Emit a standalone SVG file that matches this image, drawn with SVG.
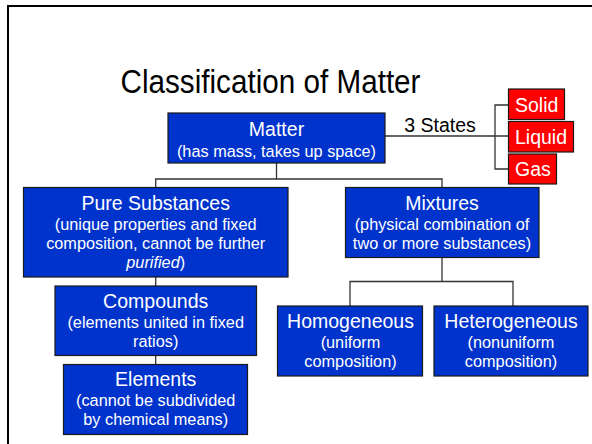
<svg xmlns="http://www.w3.org/2000/svg" width="592" height="444" viewBox="0 0 592 444">
<style>
text{font-family:"Liberation Sans",Arial,sans-serif;}
.box{fill:#0033CC;stroke:#1a1a1a;stroke-width:1.2;}
.red{fill:#FF0000;stroke:#1a1a1a;stroke-width:1.2;}
.h{font-size:19.5px;fill:#fff;text-anchor:middle;}
.s{font-size:16.3px;fill:#fff;text-anchor:middle;}
.st{font-size:19.5px;fill:#fff;}
.c{fill:none;stroke:#333;stroke-width:1.3;}
</style>
<rect width="592" height="444" fill="#fff"/>
<path d="M8,444 V6 H592" fill="none" stroke="#000" stroke-width="2"/>
<text x="120.5" y="93" font-size="32.5" textLength="300" lengthAdjust="spacingAndGlyphs" fill="#000">Classification of Matter</text>
<g id="connectors">
<path class="c" d="M276.5,163 V179 M155.7,187 V179 H442 V187"/>
<path class="c" d="M155.7,277 V286 M155.7,355 V364"/>
<path class="c" d="M442,257 V281.5 M350,306 V281.5 H513 V306"/>
<path class="c" d="M385,136 H495 M508,105 H495 V169 H508 M495,136 H508"/>
<text x="440" y="131.5" font-size="19.5" text-anchor="middle" fill="#000">3 States</text>
</g>
<g id="matter">
<rect class="box" x="168" y="113" width="217" height="50"/>
<text class="h" x="276.5" y="136">Matter</text>
<text class="s" x="276.5" y="157">(has mass, takes up space)</text>
</g>
<g id="solid">
<rect class="red" x="508.5" y="89" width="56" height="30.5"/>
<text class="st" x="515" y="111.5">Solid</text>
</g>
<g id="liquid">
<rect class="red" x="508.5" y="121.5" width="65" height="30.5"/>
<text class="st" x="515" y="143.5">Liquid</text>
</g>
<g id="gas">
<rect class="red" x="508.5" y="154" width="48" height="30"/>
<text class="st" x="515" y="175.5">Gas</text>
</g>
<g id="pure">
<rect class="box" x="23.5" y="187.5" width="264.5" height="89.5"/>
<text class="h" x="155.7" y="209.5">Pure Substances</text>
<text class="s" x="155.7" y="229.5">(unique properties and fixed</text>
<text class="s" x="155.7" y="248.5">composition, cannot be further</text>
<text class="s" x="155.7" y="267.5"><tspan font-style="italic">purified</tspan>)</text>
</g>
<g id="mixtures">
<rect class="box" x="345.5" y="187.5" width="193.5" height="70"/>
<text class="h" x="442" y="209.5">Mixtures</text>
<text class="s" x="442" y="229.5">(physical combination of</text>
<text class="s" x="442" y="248.5">two or more substances)</text>
</g>
<g id="compounds">
<rect class="box" x="55" y="286" width="201.5" height="69.5"/>
<text class="h" x="155.7" y="307.5">Compounds</text>
<text class="s" x="155.7" y="327.5">(elements united in fixed</text>
<text class="s" x="155.7" y="346.5">ratios)</text>
</g>
<g id="elements">
<rect class="box" x="63.5" y="364.5" width="184" height="70"/>
<text class="h" x="155.7" y="386">Elements</text>
<text class="s" x="155.7" y="406">(cannot be subdivided</text>
<text class="s" x="155.7" y="425">by chemical means)</text>
</g>
<g id="homogeneous">
<rect class="box" x="277.5" y="306" width="145" height="70"/>
<text class="h" x="350.5" y="328">Homogeneous</text>
<text class="s" x="350.5" y="347.5">(uniform</text>
<text class="s" x="350.5" y="366.5">composition)</text>
</g>
<g id="heterogeneous">
<rect class="box" x="434" y="306" width="154" height="70"/>
<text class="h" x="511" y="328">Heterogeneous</text>
<text class="s" x="511" y="347.5">(nonuniform</text>
<text class="s" x="511" y="366.5">composition)</text>
</g>
</svg>
